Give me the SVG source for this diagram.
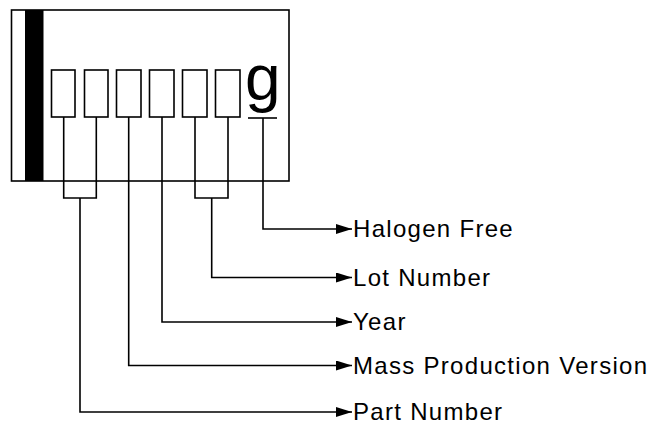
<svg xmlns="http://www.w3.org/2000/svg" width="660" height="427" viewBox="0 0 660 427">
<style>
.ln{fill:none;stroke:#000;stroke-width:1.6}
.bx{fill:#fff;stroke:#000;stroke-width:1.6}
.lbl{font-family:"Liberation Sans",Arial,sans-serif;font-size:24px;letter-spacing:1.3px;fill:#000}
</style>
<defs>
<marker id="ah" markerWidth="16" markerHeight="10" refX="16" refY="5" orient="auto" markerUnits="userSpaceOnUse">
<path d="M0,0 L16,5 L0,10 Z" fill="#000"/>
</marker>
</defs>
<rect width="660" height="427" fill="#fff"/>
<g id="chip">
<rect class="bx" x="11.5" y="10" width="277.5" height="171"/>
<rect x="25" y="10" width="18.5" height="171" fill="#000"/>
</g>
<g id="box1"><rect class="bx" x="51.5" y="70" width="23.5" height="47"/></g>
<g id="box2"><rect class="bx" x="84.5" y="70" width="23.5" height="47"/></g>
<g id="box3"><rect class="bx" x="116.5" y="70" width="24.5" height="47"/></g>
<g id="box4"><rect class="bx" x="149.5" y="70" width="24.5" height="47"/></g>
<g id="box5"><rect class="bx" x="182.5" y="70" width="24.5" height="47"/></g>
<g id="box6"><rect class="bx" x="215.5" y="70" width="24.5" height="47"/></g>
<g id="g-mark">
<text x="245" y="100" font-family="'Liberation Sans',Arial,sans-serif" font-size="64">g</text>
<line class="ln" x1="248" y1="118" x2="277" y2="118"/>
</g>
<g id="connectors">
<path class="ln" d="M63.7,117 V198 H96.3 V117"/>
<path class="ln" d="M80,198 V412 H352" marker-end="url(#ah)"/>
<path class="ln" d="M128.7,117 V365.5 H352" marker-end="url(#ah)"/>
<path class="ln" d="M162,117 V322 H352" marker-end="url(#ah)"/>
<path class="ln" d="M195,117 V198 H228 V117"/>
<path class="ln" d="M211.7,198 V277.5 H352" marker-end="url(#ah)"/>
<path class="ln" d="M263,118 V229 H352" marker-end="url(#ah)"/>
</g>
<g id="label-halogen"><text class="lbl" x="353" y="237">Halogen Free</text></g>
<g id="label-lot"><text class="lbl" x="353" y="285.5">Lot Number</text></g>
<g id="label-year"><text class="lbl" x="353" y="330">Year</text></g>
<g id="label-mass"><text class="lbl" x="353" y="373.5">Mass Production Version</text></g>
<g id="label-part"><text class="lbl" x="353" y="420">Part Number</text></g>
</svg>
